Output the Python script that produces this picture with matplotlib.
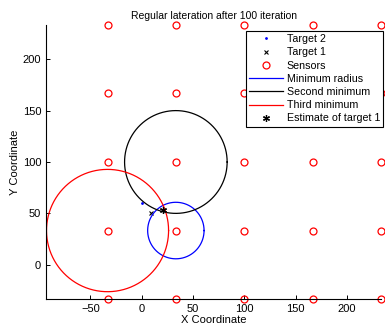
import matplotlib
matplotlib.use("Agg")
import matplotlib.pyplot as plt
import numpy as np

plt.rcParams['font.family'] = ['Liberation Sans', 'DejaVu Sans']

# Sensor grid positions
sensor_x = [-33.3, 33.3, 100.0, 166.7, 233.3]
sensor_y = [-33.3, 33.3, 100.0, 166.7, 233.3]

# Targets and estimate
target2 = (0.0, 60.0)
target1 = (9.0, 50.0)
estimate1 = (21.0, 53.0)

# Circles: center x, center y, radius
circ_min = (33.3, 33.3, 27.5)
circ_second = (33.3, 100.0, 50.0)
circ_third = (-33.3, 33.3, 59.5)

def circle(c):
    t = np.linspace(0, 2 * np.pi, 300)
    return c[0] + c[2] * np.cos(t), c[1] + c[2] * np.sin(t)

fig = plt.figure(figsize=(3.85, 3.31), dpi=100)
ax = fig.add_axes([0.1195, 0.0967, 0.8701, 0.8278])

sx, sy = np.meshgrid(sensor_x, sensor_y)

ax.plot(target2[0], target2[1], '.', color='blue', markersize=2, label='Target 2')
ax.plot(target1[0], target1[1], 'x', color='black', markersize=3.5, markeredgewidth=0.8,
        label='Target 1')
ax.plot(sx.ravel(), sy.ravel(), 'o', color='red', markerfacecolor='none', markersize=5,
        markeredgewidth=0.9, linestyle='none', label='Sensors', clip_on=False)
x, y = circle(circ_min)
ax.plot(x, y, color='blue', linewidth=0.9, label='Minimum radius')
x, y = circle(circ_second)
ax.plot(x, y, color='black', linewidth=0.9, label='Second minimum')
x, y = circle(circ_third)
ax.plot(x, y, color='red', linewidth=0.9, label='Third minimum')
ax.plot(estimate1[0], estimate1[1], marker=(6, 2, 0), color='black', markersize=5,
        markeredgewidth=0.9, linestyle='none', label='Estimate of target 1')

ax.set_xlim(-93.3, 233.3)
ax.set_ylim(-33.3, 233.3)
ax.set_xticks([-50, 0, 50, 100, 150, 200])
ax.set_yticks([0, 50, 100, 150, 200])
ax.spines['top'].set_visible(False)
ax.spines['right'].set_visible(False)
ax.tick_params(direction='in', length=3, labelsize=8, width=0.7)
for s in ('left', 'bottom'):
    ax.spines[s].set_linewidth(0.8)

ax.set_xlabel('X Coordinate', fontsize=8, labelpad=1)
ax.set_ylabel('Y Coordinate', fontsize=8, labelpad=2)
ax.set_title('Regular lateration after 100 iteration', fontsize=7.5, pad=4)

leg = ax.legend(loc='upper right', bbox_to_anchor=(1.007, 0.978), fontsize=7.7,
                frameon=True, fancybox=False, edgecolor='black', framealpha=1,
                handlelength=3.2, handletextpad=0.35, labelspacing=0.3,
                borderpad=0.3, borderaxespad=0)
leg.get_frame().set_linewidth(0.8)

fig.savefig('out.png', dpi=100)
